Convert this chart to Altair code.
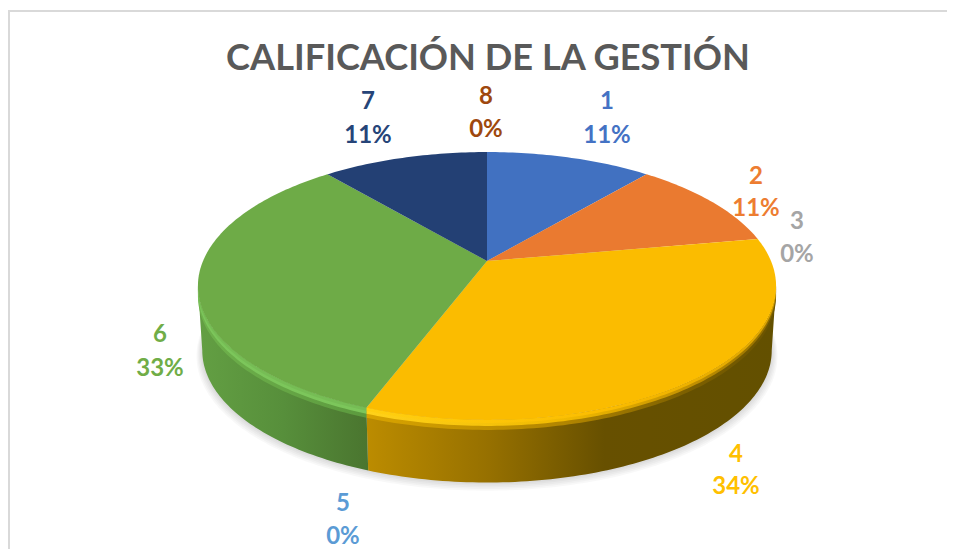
import math
import altair as alt
import pandas as pd

# ---- chart values
TITLE = "CALIFICACIÓN DE LA GESTIÓN"
categories = ["1", "2", "3", "4", "5", "6", "7", "8"]
shares = [11.1, 11.1, 0.0, 33.5, 0.0, 33.2, 11.1, 0.0]
percent_labels = ["11%", "11%", "0%", "34%", "0%", "33%", "11%", "0%"]
colors = ["#4472C4", "#ED7D31", "#A5A5A5", "#FFC000", "#5B9BD5", "#70AD47", "#264478", "#9E480E"]
surface_colors = ["#4171C1", "#EA7A30", "#A5A5A5", "#FBBC00", "#5B9BD5", "#6EAB47", "#234074", "#9E480E"]

# ---- layout (page pixels; offset of the chart on the page)
OFFX, OFFY = 8, 8
W, H = 939, 541
CX, CY = 487 - OFFX, 261 - OFFY
A, B, K = 284.0, 129.3, 0.1864
DEPTH, BOTTOM_SCALE = 65, 0.985
label_x = [607, 756, 797, 736, 343, 160, 368, 486]
label_y_name = [102, 177, 222, 455, 504, 335, 102, 97]
label_y_pct = [136, 209, 255, 487, 537, 369, 136, 130]

# angles at which the disc's silhouette is widest: the visible wall stops there
THETA_RIGHT = math.degrees(math.acos(-K))
THETA_LEFT = 360 - THETA_RIGHT


def proj(deg, s=1.0, dy=0.0):
    t = math.radians(deg)
    u, v = math.sin(t), math.cos(t)
    d = 1 + K * v
    return [CX + A * s * u / d, CY - B * s * v / d + dy]


def arc(t0, t1, s=1.0, dy=0.0):
    n = max(2, int(abs(t1 - t0)) + 1)
    return [proj(t0 + (t1 - t0) * i / (n - 1), s, dy) for i in range(n)]


def feature(points):
    ring = points + [points[0]]
    return {"type": "Feature", "properties": {},
            "geometry": {"type": "Polygon", "coordinates": [ring]}}


def shape(points, fill, opacity=1.0):
    data = alt.Data(values=[feature(points)])
    return alt.Chart(data).mark_geoshape(
        fill=fill, strokeWidth=0, stroke="transparent", opacity=opacity
    ).project(type="identity", scale=1, translate=[0, 0])


def hgrad(stops):
    return alt.Gradient(
        gradient="linear", x1=0, x2=1, y1=0, y2=0,
        stops=[alt.GradientStop(offset=o, color=c) for o, c in stops],
    )


# slice angular ranges from shares
ranges = {}
acc = 0.0
total = sum(shares)
for c, sh in zip(categories, shares):
    ranges[c] = (acc / total * 360, (acc + sh) / total * 360)
    acc += sh


def visible(c):
    t0, t1 = ranges[c]
    return max(t0, THETA_RIGHT), min(t1, THETA_LEFT)


layers = []

# frame of the picture
frame_top = pd.DataFrame({"x": [0], "x2": [W], "y": [3]})
frame_left = pd.DataFrame({"x": [1], "y": [3], "y2": [H]})
layers.append(alt.Chart(frame_top).mark_rule(color="#D9D9D9", strokeWidth=2).encode(
    x=alt.X("x:Q", scale=None, axis=None), x2="x2:Q",
    y=alt.Y("y:Q", scale=None, axis=None),
))
layers.append(alt.Chart(frame_left).mark_rule(color="#D9D9D9", strokeWidth=2).encode(
    x=alt.X("x:Q", scale=None, axis=None),
    y=alt.Y("y:Q", scale=None, axis=None), y2="y2:Q",
))

# soft shadow under the body
for step in (10, 8, 6, 4, 2):
    layers.append(shape(arc(0, 360, BOTTOM_SCALE + 0.002 * step, DEPTH + step * 0.5), "#000000", 0.028))

# body sides
side_styles = {
    "4": hgrad([(0, "#BC8C00"), (0.3, "#967000"), (0.58, "#675000"), (1, "#635000")]),
    "6": hgrad([(0, "#639F43"), (0.5, "#578F3B"), (1, "#4A752F")]),
}
for c, fill in side_styles.items():
    t0, t1 = visible(c)
    pts = arc(t0, t1, 1.0, 0) + arc(t1, t0, BOTTOM_SCALE, DEPTH)
    layers.append(shape(pts, fill))

# bevelled rim of the top face
rim_styles = [
    (10, {"4": hgrad([(0, "#D9A400"), (0.5, "#B08400"), (0.78, "#7D6000"), (1, "#6A5300")]),
          "6": hgrad([(0, "#6FB24C"), (1, "#5C9A3E")])}),
    (6, {"4": hgrad([(0, "#FFD21A"), (0.5, "#F0B800"), (0.8, "#C29000"), (1, "#8E6C00")]),
         "6": hgrad([(0, "#7CC65B"), (1, "#7CC65B")])}),
    (3, {"4": hgrad([(0, "#FFCF10"), (0.6, "#FBBC00"), (1, "#DDA500")]),
         "6": hgrad([(0, "#76BD55"), (1, "#76BD55")])}),
]
for dy, styles in rim_styles:
    for c, fill in styles.items():
        t0, t1 = visible(c)
        layers.append(shape(arc(t0, t1, 1.0, 0) + arc(t1, t0, 1.0, dy), fill))

# top face
for c, sh, col in zip(categories, shares, surface_colors):
    if sh <= 0:
        continue
    t0, t1 = ranges[c]
    layers.append(shape([[CX, CY]] + arc(t0, t1), col))

# labels
labels = pd.DataFrame({
    "cat": categories, "pct": percent_labels, "color": colors,
    "x": [x - OFFX for x in label_x],
    "y1": [y - OFFY for y in label_y_name],
    "y2": [y - OFFY for y in label_y_pct],
})
for field, ycol in (("cat", "y1"), ("pct", "y2")):
    layers.append(alt.Chart(labels).mark_text(
        font="Lato", fontWeight="bold", fontSize=24, align="center", baseline="middle"
    ).encode(
        x=alt.X("x:Q", scale=None, axis=None),
        y=alt.Y(f"{ycol}:Q", scale=None, axis=None),
        text=alt.Text(f"{field}:N"),
        color=alt.Color("color:N", scale=None, legend=None),
    ))

title = pd.DataFrame({"t": [TITLE], "x": [488 - OFFX], "y": [59 - OFFY]})
layers.append(alt.Chart(title).mark_text(
    font="Lato", fontWeight="bold", fontSize=36.2, color="#595959", align="center", baseline="middle"
).encode(
    x=alt.X("x:Q", scale=None, axis=None),
    y=alt.Y("y:Q", scale=None, axis=None),
    text="t:N",
))

chart = alt.layer(*layers).properties(
    width=W, height=H, padding=0, autosize=alt.AutoSizeParams(type="none"),
    background="white",
).configure_view(stroke=None)

chart.save("out.html", embed_options={"renderer": "svg", "actions": False})
